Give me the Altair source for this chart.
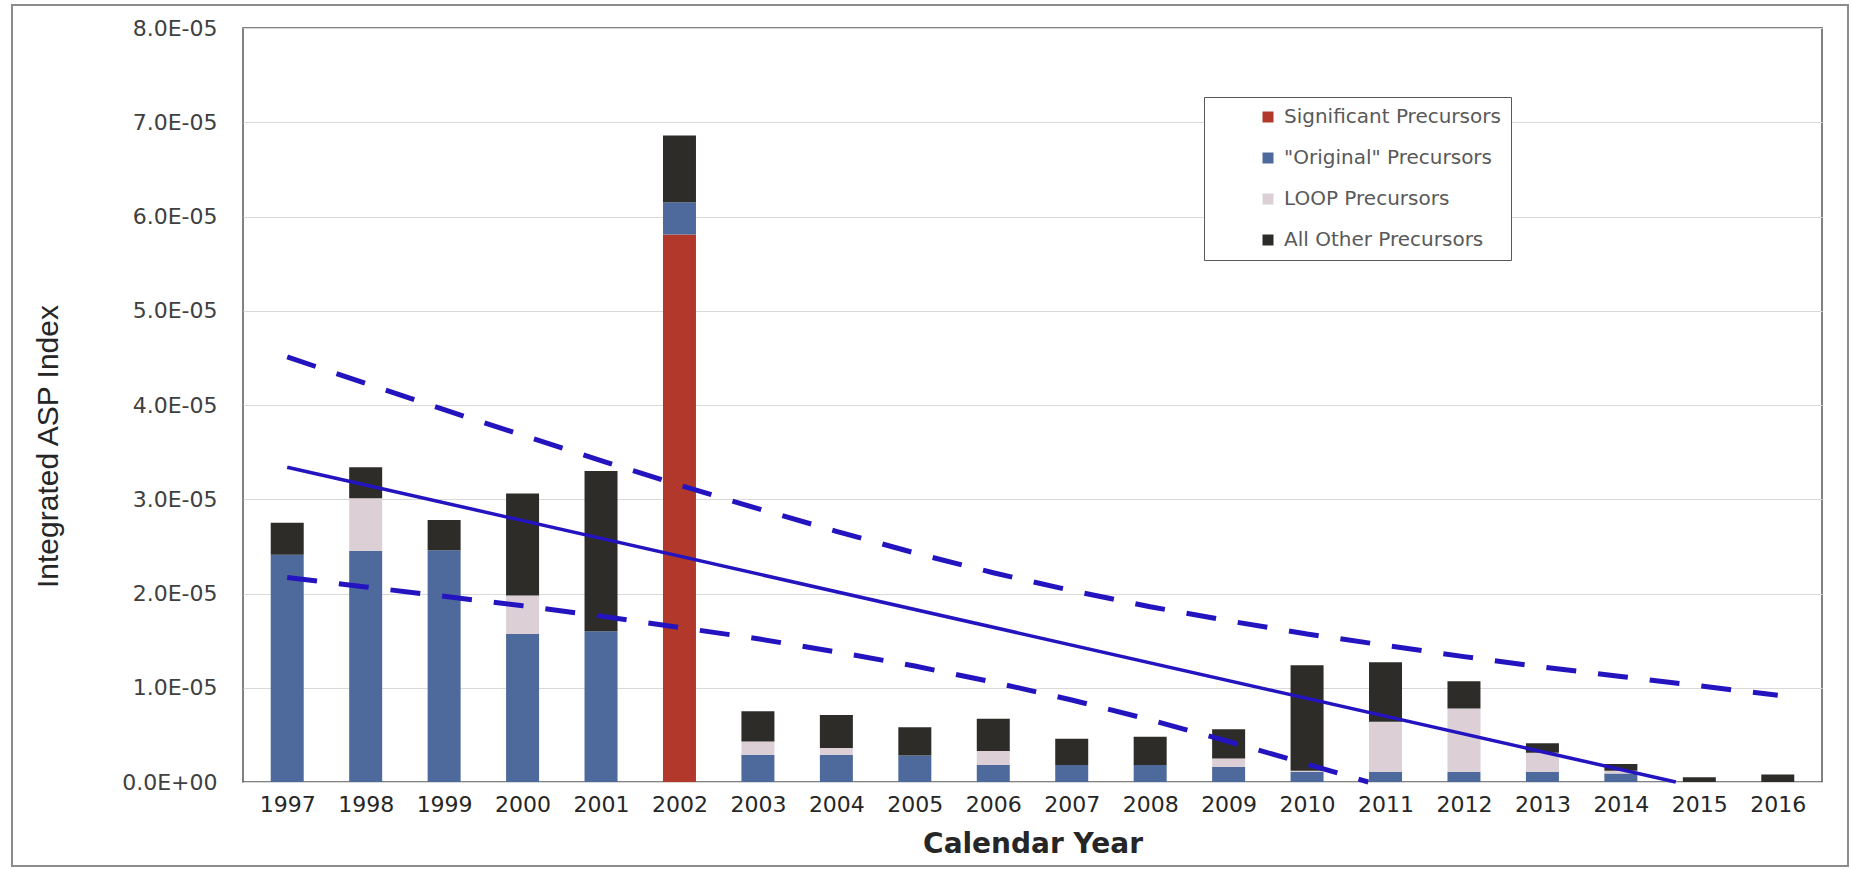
import altair as alt
import pandas as pd

# ---- data (values in units of 1E-05) ----
years = list(range(1997, 2017))
series = ["Significant Precursors", "\"Original\" Precursors", "LOOP Precursors", "All Other Precursors"]
colors = ["#b3382c", "#4e6a9c", "#dccfd6", "#2d2c28"]

significant = [0, 0, 0, 0, 0, 5.81, 0, 0, 0, 0, 0, 0, 0, 0, 0, 0, 0, 0, 0, 0]
original    = [2.41, 2.45, 2.46, 1.57, 1.60, 0.34, 0.29, 0.29, 0.28, 0.18, 0.18, 0.18, 0.16, 0.11, 0.11, 0.11, 0.11, 0.09, 0, 0]
loop        = [0, 0.56, 0, 0.41, 0, 0, 0.14, 0.07, 0, 0.15, 0, 0, 0.09, 0.01, 0.53, 0.67, 0.20, 0.03, 0, 0]
other       = [0.34, 0.33, 0.32, 1.08, 1.70, 0.71, 0.32, 0.35, 0.30, 0.34, 0.28, 0.30, 0.31, 1.12, 0.63, 0.29, 0.10, 0.07, 0.05, 0.08]

trend_years = [1997, 2014.7]
trend_vals = [3.34, 0.0]

upper_years = years
upper_vals = [4.51, 4.23, 3.95, 3.68, 3.41, 3.15, 2.90, 2.66, 2.43, 2.22,
              2.03, 1.86, 1.71, 1.57, 1.45, 1.33, 1.22, 1.12, 1.02, 0.92]

lower_years = [1997, 1998, 1999, 2000, 2001, 2002, 2003, 2004, 2005, 2006,
               2007, 2008, 2009, 2010, 2010.78]
lower_vals = [2.17, 2.07, 1.97, 1.87, 1.76, 1.64, 1.52, 1.38, 1.23, 1.06,
              0.87, 0.66, 0.43, 0.19, 0.0]

UNIT = 1e-5

rows = []
for i, y in enumerate(years):
    for k, (name, vals) in enumerate(zip(series, [significant, original, loop, other])):
        if vals[i] > 0:
            rows.append({"year": y, "series": name, "order": k, "value": vals[i] * UNIT})
bars_df = pd.DataFrame(rows)

trend_df = pd.DataFrame({"year": trend_years, "value": [v * UNIT for v in trend_vals]})
upper_df = pd.DataFrame({"year": upper_years, "value": [v * UNIT for v in upper_vals]})
lower_df = pd.DataFrame({"year": lower_years, "value": [v * UNIT for v in lower_vals]})

W, H = 1579, 754
xscale = alt.Scale(domain=[1996.5, 2016.5], nice=False, zero=False)
yscale = alt.Scale(domain=[0, 8e-5], nice=False)
yticks = [i * UNIT for i in range(9)]

bars = alt.Chart(bars_df).mark_bar(size=33).encode(
    x=alt.X("year:Q", scale=xscale,
            axis=alt.Axis(values=years, format="d", labelFont="DejaVu Sans", labelFontSize=22,
                          labelColor="#262626", labelPadding=12, ticks=False, domain=False,
                          grid=False, labelFlush=False, labelOverlap=False,
                          title="Calendar Year", titleFont="DejaVu Sans", titleFontSize=28,
                          titleFontWeight="bold", titleColor="#262626", titleY=70,
                          titleBaseline="alphabetic")),
    y=alt.Y("value:Q", stack="zero", scale=yscale,
            axis=alt.Axis(values=yticks,
                          labelExpr="datum.value == 0 ? '0.0E+00' : replace(format(datum.value, '.1e'), 'e-', 'E-0')",
                          labelFont="DejaVu Sans", labelFontSize=22, labelColor="#404040",
                          labelPadding=26, ticks=False, domain=False,
                          gridColor="#d9d9d9", gridWidth=1,
                          title="Integrated ASP Index", titleFont="Liberation Sans",
                          titleFontSize=30, titleFontWeight="normal", titleColor="#262626",
                          titleAngle=270, titleX=-186, titleY=418, titleBaseline="alphabetic")),
    color=alt.Color("series:N", scale=alt.Scale(domain=series, range=colors),
                    legend=alt.Legend(title=None, orient="none", legendX=961, legendY=69,
                                      direction="vertical", symbolType="square", symbolSize=121,
                                      symbolStrokeWidth=0, labelFont="DejaVu Sans",
                                      labelFontSize=20, labelColor="#595959", labelLimit=500,
                                      padding=10, rowPadding=21, symbolOffset=44, labelOffset=6,
                                      strokeColor="#595959", fillColor="white")),
    order=alt.Order("order:Q"),
)

line_color = "#2414c0"
trend = alt.Chart(trend_df).mark_line(color=line_color, strokeWidth=3.5).encode(
    x=alt.X("year:Q", scale=xscale), y=alt.Y("value:Q", scale=yscale))
upper = alt.Chart(upper_df).mark_line(color=line_color, strokeWidth=5, strokeDash=[30, 22]).encode(
    x=alt.X("year:Q", scale=xscale), y=alt.Y("value:Q", scale=yscale))
lower = alt.Chart(lower_df).mark_line(color=line_color, strokeWidth=5, strokeDash=[30, 22]).encode(
    x=alt.X("year:Q", scale=xscale), y=alt.Y("value:Q", scale=yscale))

frame = alt.Chart(pd.DataFrame({"a": [0]})).mark_rect(
    fill="transparent", stroke="#8c8c8c", strokeWidth=2).encode(
    x=alt.value(-231), x2=alt.value(W + 26), y=alt.value(-23), y2=alt.value(H + 84))

chart = alt.layer(bars, trend, upper, lower, frame).properties(
    width=W, height=H,
    autosize=alt.AutoSizeParams(type="none"),
    padding={"left": 243, "top": 28, "right": 29, "bottom": 87},
    background="white",
).configure_view(stroke="#595959", strokeWidth=1.5)

chart.save("out.html", embed_options={"renderer": "svg", "actions": False})
